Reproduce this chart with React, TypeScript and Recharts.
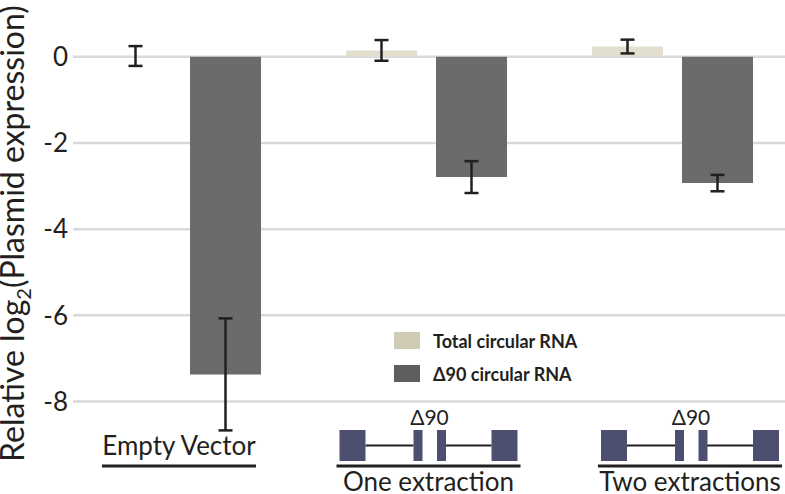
import React from 'react';
import { BarChart, Bar, XAxis, YAxis, CartesianGrid, ErrorBar, Legend } from 'recharts';

const categories = ['Empty Vector', 'One extraction', 'Two extractions'];
const totalValues = [0.02, 0.15, 0.24];
const totalErrors = [0.23, 0.24, 0.16];
const delta90Values = [-7.37, -2.79, -2.93];
const delta90Errors = [1.3, 0.37, 0.19];
const showConstruct = [false, true, true];
const yTicks = [-8, -6, -4, -2, 0];

const data = categories.map((name, i) => ({
  name,
  total: totalValues[i],
  totalErr: totalErrors[i],
  delta: delta90Values[i],
  deltaErr: delta90Errors[i],
}));

const FONT = 'Lato, "Noto Sans", sans-serif';
const INK = '#231f20';
const EXON = '#4d4f70';

// label blocks sit a little off the band centre in the original
const LABEL_SHIFT = [-1, 2.5, 18];
const UNDERLINE_HALF = [77, 92, 92];

function CategoryTick(props: any) {
  const { x, payload } = props;
  const y = 494;
  const i = categories.indexOf(payload.value);
  const cx = x + LABEL_SHIFT[i];
  if (!showConstruct[i]) {
    return (
      <g>
        <text x={cx} y={y - 39} textAnchor="middle" fontFamily={FONT} fontSize={26} fill={INK}>
          {payload.value}
        </text>
        <rect x={cx - UNDERLINE_HALF[i]} y={y - 29.5} width={UNDERLINE_HALF[i] * 2} height={3} fill={INK} />
      </g>
    );
  }
  const top = y - 64;
  const h = 31;
  return (
    <g>
      <text x={cx + 1} y={y - 69} textAnchor="middle" fontFamily={FONT} fontSize={21} fill={INK}>
        Δ90
      </text>
      <line x1={cx - 63} x2={cx - 15} y1={top + h / 2} y2={top + h / 2} stroke={INK} strokeWidth={2} />
      <line x1={cx + 17} x2={cx + 63} y1={top + h / 2} y2={top + h / 2} stroke={INK} strokeWidth={2} />
      <rect x={cx - 89} y={top} width={26} height={h} fill={EXON} />
      <rect x={cx - 15} y={top} width={9} height={h} fill={EXON} />
      <rect x={cx + 8.5} y={top} width={9} height={h} fill={EXON} />
      <rect x={cx + 63} y={top} width={26} height={h} fill={EXON} />
      <rect x={cx - UNDERLINE_HALF[i]} y={y - 29.5} width={UNDERLINE_HALF[i] * 2} height={3} fill={INK} />
      <text x={cx} y={y - 3} textAnchor="middle" fontFamily={FONT} fontSize={26} fill={INK}>
        {payload.value}
      </text>
    </g>
  );
}

function YTitle() {
  return (
    <text transform="rotate(-90)" x={-462} y={24} fontFamily={FONT} fontSize={32} fill={INK}>
      Relative log
      <tspan dy={7} fontSize={20}>2</tspan>
      <tspan dy={-7}>(Plasmid expression)</tspan>
    </text>
  );
}

const legendItems = [
  { label: 'Total circular RNA', color: '#cfcbb5' },
  { label: 'Δ90 circular RNA', color: '#5e5e5e' },
];

function ChartLegend() {
  return (
    <div style={{ fontFamily: FONT }}>
      {legendItems.map((item) => (
        <div key={item.label} style={{ display: 'flex', alignItems: 'center', height: 33 }}>
          <div style={{ width: 26, height: 17, background: item.color, marginRight: 13 }} />
          <span style={{ fontSize: 18, fontWeight: 700, color: INK }}>{item.label}</span>
        </div>
      ))}
    </div>
  );
}

export default function App() {
  return (
    <div style={{ position: 'absolute', left: 0, top: 0, width: 785, height: 494, overflow: 'hidden', background: '#fff' }}>
      <BarChart
        width={800}
        height={494}
        data={data}
        margin={{ top: 0, right: 5, bottom: 0, left: 0 }}
        barSize={71}
        barGap={19}
      >
        <CartesianGrid vertical={false} horizontalValues={yTicks} stroke="#d9d9d9" strokeWidth={2.5} />
        <XAxis
          dataKey="name"
          height={2}
          axisLine={false}
          tickLine={false}
          padding={{ left: -16, right: 0 }}
          tick={<CategoryTick />}
          interval={0}
        />
        <YAxis
          width={73}
          domain={[-10.1, 1.32]}
          allowDataOverflow
          ticks={yTicks}
          axisLine={false}
          tickLine={false}
          tickSize={0}
          tickMargin={5}
          tick={{ fontFamily: FONT, fontSize: 26, fill: INK }}
          label={{ content: () => <YTitle /> }}
        />
        <Legend
          layout="vertical"
          align="center"
          verticalAlign="middle"
          content={() => <ChartLegend />}
          wrapperStyle={{ left: 394, top: 324, width: 260 }}
        />
        <Bar dataKey="total" fill="#e2dfcf" isAnimationActive={false}>
          <ErrorBar dataKey="totalErr" width={7} stroke={INK} strokeWidth={2.5} />
        </Bar>
        <Bar dataKey="delta" fill="#6b6b6b" isAnimationActive={false}>
          <ErrorBar dataKey="deltaErr" width={7} stroke={INK} strokeWidth={2.5} />
        </Bar>
      </BarChart>
    </div>
  );
}
